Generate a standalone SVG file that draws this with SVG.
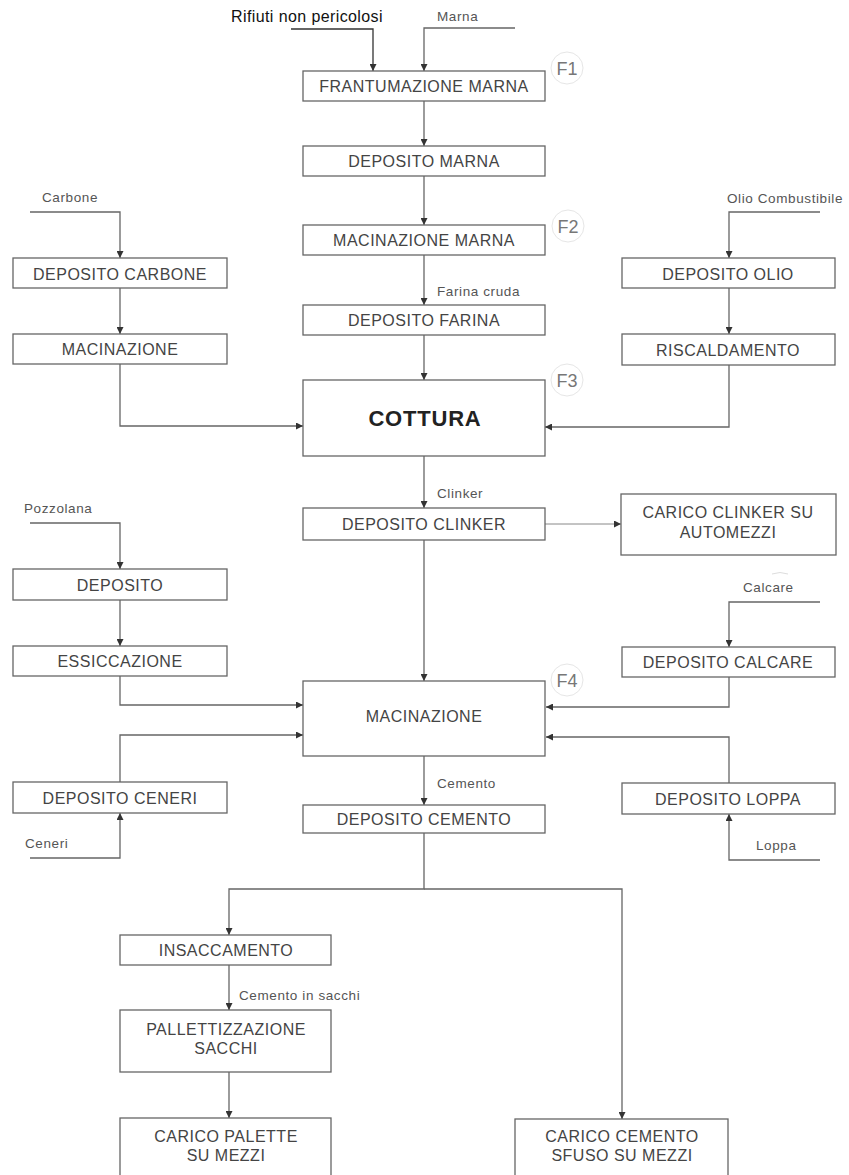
<svg xmlns="http://www.w3.org/2000/svg" width="849" height="1175" viewBox="0 0 849 1175">
<style>
.box{fill:#fff;stroke:#666;stroke-width:1.3}
.lbl{font-family:"Liberation Sans",Arial,sans-serif;font-size:16px;letter-spacing:0.5px;fill:#444;text-anchor:middle}
.sm{font-family:"Liberation Sans",Arial,sans-serif;font-size:13.5px;letter-spacing:0.6px;fill:#555}
.ln{fill:none;stroke:#666;stroke-width:1.3}
.fc{fill:none;stroke:#e6e6e6;stroke-width:1}
.ft{font-family:"Liberation Sans",Arial,sans-serif;font-size:18px;fill:#777;text-anchor:middle}
</style>
<defs>
<marker id="ah" viewBox="0 0 10 10" refX="10" refY="5" markerWidth="7" markerHeight="7" markerUnits="userSpaceOnUse" orient="auto">
<path d="M0,0 L10,5 L0,10 z" fill="#333"/>
</marker>
</defs>
<rect width="849" height="1175" fill="#fff"/>

<g id="connectors">
<path class="ln" d="M291,29 H373 V71" marker-end="url(#ah)" style="stroke:#333"/>
<path class="ln" d="M515,28 H424 V71" marker-end="url(#ah)"/>
<path class="ln" d="M424,101 V146" marker-end="url(#ah)"/>
<path class="ln" d="M424,176 V225" marker-end="url(#ah)"/>
<path class="ln" d="M424,255 V305" marker-end="url(#ah)"/>
<path class="ln" d="M424,335 V380" marker-end="url(#ah)"/>
<path class="ln" d="M424,456 V508" marker-end="url(#ah)"/>
<path class="ln" d="M545,524 H621" marker-end="url(#ah)" style="stroke:#888;stroke-width:1"/>
<path class="ln" d="M424,540 V681" marker-end="url(#ah)"/>
<path class="ln" d="M424,756 V805" marker-end="url(#ah)"/>
<path class="ln" d="M424,833 V889 H229 V935" marker-end="url(#ah)"/>
<path class="ln" d="M424,889 H622 V1119" marker-end="url(#ah)"/>
<path class="ln" d="M229,965 V1010" marker-end="url(#ah)"/>
<path class="ln" d="M229,1072 V1118" marker-end="url(#ah)"/>
<path class="ln" d="M30,212 H120 V258" marker-end="url(#ah)"/>
<path class="ln" d="M120,288 V334" marker-end="url(#ah)"/>
<path class="ln" d="M120,364 V426 H303" marker-end="url(#ah)"/>
<path class="ln" d="M820,212 H729 V258" marker-end="url(#ah)"/>
<path class="ln" d="M729,288 V334" marker-end="url(#ah)"/>
<path class="ln" d="M729,365 V427 H545" marker-end="url(#ah)"/>
<path class="ln" d="M30,523 H120 V569" marker-end="url(#ah)"/>
<path class="ln" d="M120,600 V646" marker-end="url(#ah)"/>
<path class="ln" d="M120,676 V705 H303" marker-end="url(#ah)"/>
<path class="ln" d="M30,858 H120 V813" marker-end="url(#ah)"/>
<path class="ln" d="M120,782 V735 H303" marker-end="url(#ah)"/>
<path class="ln" d="M820,602 H729 V647" marker-end="url(#ah)"/>
<path class="ln" d="M729,677 V707 H546" marker-end="url(#ah)"/>
<path class="ln" d="M820,860 H729 V814" marker-end="url(#ah)"/>
<path class="ln" d="M729,783 V737 H546" marker-end="url(#ah)"/>
</g>

<g id="labels">
<text x="307" y="22" style="font-family:'Liberation Sans',Arial,sans-serif;font-size:16px;letter-spacing:0.4px;fill:#111;text-anchor:middle">Rifiuti non pericolosi</text>
<text class="sm" x="437" y="21">Marna</text>
<text class="sm" x="42" y="202">Carbone</text>
<text class="sm" x="727" y="203">Olio Combustibile</text>
<text class="sm" x="437" y="296">Farina cruda</text>
<text class="sm" x="437" y="498">Clinker</text>
<text class="sm" x="24" y="513">Pozzolana</text>
<text class="sm" x="743" y="592">Calcare</text>
<text class="sm" x="437" y="788">Cemento</text>
<text class="sm" x="25" y="848">Ceneri</text>
<text class="sm" x="756" y="850">Loppa</text>
<text class="sm" x="239" y="1000">Cemento in sacchi</text>
</g>

<g id="f1"><circle class="fc" cx="567" cy="68" r="16"/><text class="ft" x="567" y="75">F1</text></g>
<g id="f2"><circle class="fc" cx="568" cy="226" r="16"/><text class="ft" x="568" y="233">F2</text></g>
<g id="f3"><circle class="fc" cx="567" cy="380" r="16"/><text class="ft" x="567" y="387">F3</text></g>
<g id="f4"><circle class="fc" cx="567" cy="680" r="16"/><text class="ft" x="567" y="687">F4</text></g>
<path d="M772,574 q8,-3 16,0" fill="none" stroke="#ddd" stroke-width="1"/>

<g id="frantumazione"><rect class="box" x="303" y="71" width="242" height="30"/><text class="lbl" x="424" y="92">FRANTUMAZIONE MARNA</text></g>
<g id="deposito-marna"><rect class="box" x="303" y="146" width="242" height="30"/><text class="lbl" x="424" y="167">DEPOSITO MARNA</text></g>
<g id="macinazione-marna"><rect class="box" x="303" y="225" width="242" height="30"/><text class="lbl" x="424" y="246">MACINAZIONE MARNA</text></g>
<g id="deposito-farina"><rect class="box" x="303" y="305" width="242" height="30"/><text class="lbl" x="424" y="326">DEPOSITO FARINA</text></g>
<g id="cottura"><rect class="box" x="303" y="380" width="242" height="76"/><text class="lbl" x="425" y="426" style="font-size:22px;font-weight:bold;letter-spacing:0.8px;fill:#222">COTTURA</text></g>
<g id="deposito-clinker"><rect class="box" x="303" y="508" width="242" height="32"/><text class="lbl" x="424" y="530">DEPOSITO CLINKER</text></g>
<g id="carico-clinker"><rect class="box" x="621" y="494" width="215" height="61"/><text class="lbl" x="728" y="518">CARICO CLINKER SU</text><text class="lbl" x="728" y="538">AUTOMEZZI</text></g>
<g id="macinazione-f4"><rect class="box" x="303" y="681" width="242" height="75"/><text class="lbl" x="424" y="722">MACINAZIONE</text></g>
<g id="deposito-cemento"><rect class="box" x="303" y="805" width="242" height="28"/><text class="lbl" x="424" y="825">DEPOSITO CEMENTO</text></g>
<g id="insaccamento"><rect class="box" x="120" y="935" width="211" height="30"/><text class="lbl" x="226" y="956">INSACCAMENTO</text></g>
<g id="pallettizzazione"><rect class="box" x="120" y="1010" width="211" height="62"/><text class="lbl" x="226" y="1035">PALLETTIZZAZIONE</text><text class="lbl" x="226" y="1054">SACCHI</text></g>
<g id="carico-palette"><rect class="box" x="120" y="1118" width="211" height="70"/><text class="lbl" x="226" y="1142">CARICO PALETTE</text><text class="lbl" x="226" y="1161">SU MEZZI</text></g>
<g id="carico-cemento"><rect class="box" x="515" y="1119" width="213" height="70"/><text class="lbl" x="622" y="1142">CARICO CEMENTO</text><text class="lbl" x="622" y="1161">SFUSO SU MEZZI</text></g>
<g id="deposito-carbone"><rect class="box" x="13" y="258" width="214" height="30"/><text class="lbl" x="120" y="280">DEPOSITO CARBONE</text></g>
<g id="macinazione-carbone"><rect class="box" x="13" y="334" width="214" height="30"/><text class="lbl" x="120" y="355">MACINAZIONE</text></g>
<g id="deposito-olio"><rect class="box" x="622" y="258" width="213" height="30"/><text class="lbl" x="728" y="280">DEPOSITO OLIO</text></g>
<g id="riscaldamento"><rect class="box" x="622" y="334" width="213" height="31"/><text class="lbl" x="728" y="356">RISCALDAMENTO</text></g>
<g id="deposito-pozzolana"><rect class="box" x="13" y="569" width="214" height="31"/><text class="lbl" x="120" y="591">DEPOSITO</text></g>
<g id="essiccazione"><rect class="box" x="13" y="646" width="214" height="30"/><text class="lbl" x="120" y="667">ESSICCAZIONE</text></g>
<g id="deposito-ceneri"><rect class="box" x="13" y="782" width="214" height="31"/><text class="lbl" x="120" y="804">DEPOSITO CENERI</text></g>
<g id="deposito-calcare"><rect class="box" x="622" y="647" width="213" height="30"/><text class="lbl" x="728" y="668">DEPOSITO CALCARE</text></g>
<g id="deposito-loppa"><rect class="box" x="622" y="783" width="213" height="31"/><text class="lbl" x="728" y="805">DEPOSITO LOPPA</text></g>
</svg>
